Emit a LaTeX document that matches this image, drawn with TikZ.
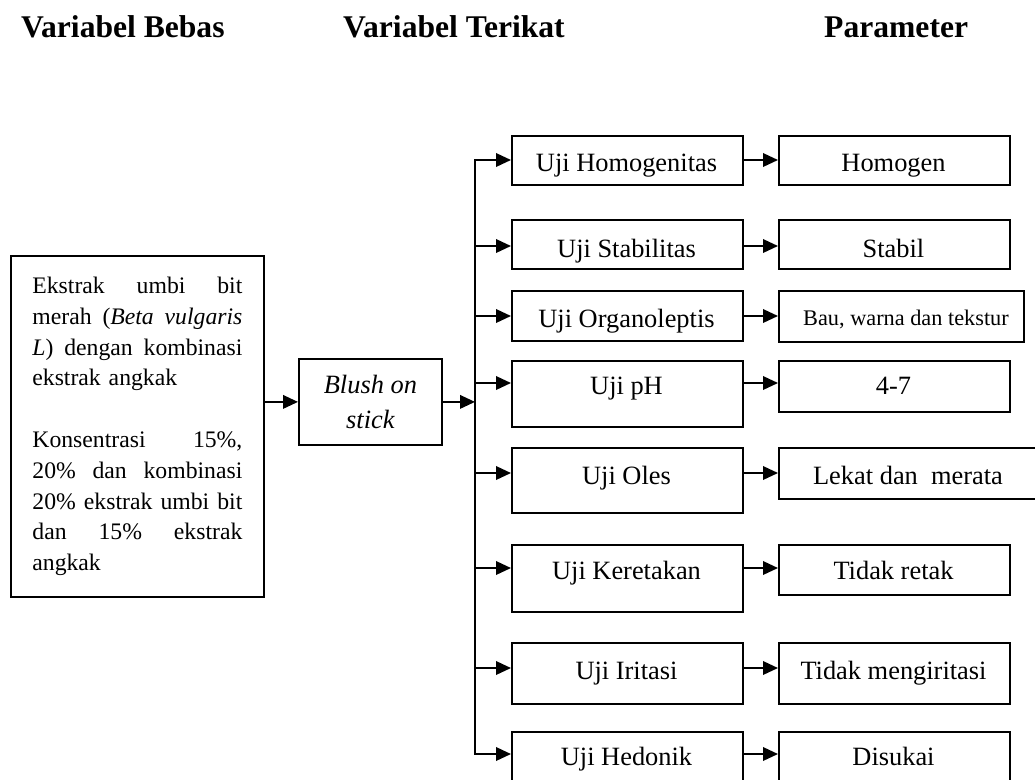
\documentclass[tikz,border=0pt]{standalone}
\usepackage{fontspec}
\setmainfont{Liberation Serif}
\usetikzlibrary{arrows.meta}
\newcommand{\jline}[1]{\leavevmode\hbox to 210pt{#1}}
\begin{document}
\begin{tikzpicture}[x=1pt,y=-1pt,
  box/.style={draw, line width=1.8pt, inner sep=0pt, anchor=north west},
  lbl/.style={inner sep=0pt, anchor=base, font=\fontsize{26.4}{30}\selectfont},
  small/.style={inner sep=0pt, anchor=base, font=\fontsize{22.3}{26}\selectfont},
  title/.style={inner sep=0pt, anchor=base west, font=\fontsize{31.6}{36}\selectfont\bfseries},
  arr/.style={line width=2pt, -{Triangle[length=15pt,width=13.5pt]}},
  conn/.style={line width=2pt, line cap=rect}]
\useasboundingbox (0,0) rectangle (1035,779);
\clip (0,0) rectangle (1035,779);

% titles
\node[title] (h1) at (21,37) {Variabel Bebas};
\node[title] (h2) at (343,37) {Variabel Terikat};
\node[title] (h3) at (824,37) {Parameter};

% left box
\node[box, minimum width=253pt, minimum height=341pt, text width=210pt, align=left,
      font=\fontsize{23.7}{30.8}\selectfont] (L) at (10,255)
 {\jline{Ekstrak\hfill umbi\hfill bit}\\
  \jline{merah\hfill (\textit{Beta}\hfill\textit{vulgaris}}\\
  \jline{\textit{L})\hfill dengan\hfill kombinasi}\\
  ekstrak angkak\\[30.8pt]
  \jline{Konsentrasi\hfill 15\%,}\\
  \jline{20\%\hfill dan\hfill kombinasi}\\
  \jline{20\%\hfill ekstrak\hfill umbi\hfill bit}\\
  \jline{dan\hfill 15\%\hfill ekstrak}\\
  angkak};

% blush box
\node[box, minimum width=143pt, minimum height=86pt, align=center,
      font=\fontsize{26.4}{35}\selectfont\itshape] (B) at (298,358) {Blush on\\stick};

% spine coordinates
\coordinate (a1) at (475,160);
\coordinate (a2) at (475,246);
\coordinate (a3) at (475,316);
\coordinate (a4) at (475,383);
\coordinate (a5) at (475,473);
\coordinate (a6) at (475,568);
\coordinate (a7) at (475,668);
\coordinate (a8) at (475,754);

% middle boxes
\node[box, minimum width=231pt, minimum height=49pt] (m1) at (511,135) {};
\node[box, minimum width=231pt, minimum height=49pt] (m2) at (511,219) {};
\node[box, minimum width=231pt, minimum height=50pt] (m3) at (511,290) {};
\node[box, minimum width=231pt, minimum height=66pt] (m4) at (511,360) {};
\node[box, minimum width=231pt, minimum height=65pt] (m5) at (511,447) {};
\node[box, minimum width=231pt, minimum height=67pt] (m6) at (511,544) {};
\node[box, minimum width=231pt, minimum height=61pt] (m7) at (511,642) {};
\node[box, minimum width=231pt, minimum height=60pt] (m8) at (511,731) {};

\node[lbl] (t1) at (626.5,171) {Uji Homogenitas};
\node[lbl] (t2) at (626.5,257) {Uji Stabilitas};
\node[lbl] (t3) at (626.5,327) {Uji Organoleptis};
\node[lbl] (t4) at (626.5,394) {Uji pH};
\node[lbl] (t5) at (626.5,484) {Uji Oles};
\node[lbl] (t6) at (626.5,579) {Uji Keretakan};
\node[lbl] (t7) at (626.5,679) {Uji Iritasi};
\node[lbl] (t8) at (626.5,765) {Uji Hedonik};

% right boxes
\node[box, minimum width=231pt, minimum height=49pt] (r1) at (778,135) {};
\node[box, minimum width=231pt, minimum height=49pt] (r2) at (778,219) {};
\node[box, minimum width=245pt, minimum height=51pt] (r3) at (778,290) {};
\node[box, minimum width=231pt, minimum height=51pt] (r4) at (778,360) {};
\node[box, minimum width=262pt, minimum height=51pt] (r5) at (778,447) {};
\node[box, minimum width=231pt, minimum height=50pt] (r6) at (778,544) {};
\node[box, minimum width=231pt, minimum height=61pt] (r7) at (778,642) {};
\node[box, minimum width=231pt, minimum height=60pt] (r8) at (778,731) {};

\node[lbl] (p1) at (893.5,171) {Homogen};
\node[lbl] (p2) at (893.5,257) {Stabil};
\node[small] (p3) at (906,325) {Bau, warna dan tekstur};
\node[lbl] (p4) at (893.5,394) {4-7};
\node[lbl] (p5) at (908,484) {Lekat dan~ merata};
\node[lbl] (p6) at (893.5,579) {Tidak retak};
\node[lbl] (p7) at (893.5,679) {Tidak mengiritasi};
\node[lbl] (p8) at (893.5,765) {Disukai};

% connectors
\draw[arr] (L.east |- B.west) -- (B.west);
\draw[arr] (B.east) -- (a1 |- B.east);
\draw[conn] (a1) -- (a8);
\foreach \i in {1,...,8}{
  \draw[arr] (a\i) -- (m\i.west |- a\i);
  \draw[arr] (m\i.east |- a\i) -- (r\i.west |- a\i);
}
\end{tikzpicture}
\end{document}
